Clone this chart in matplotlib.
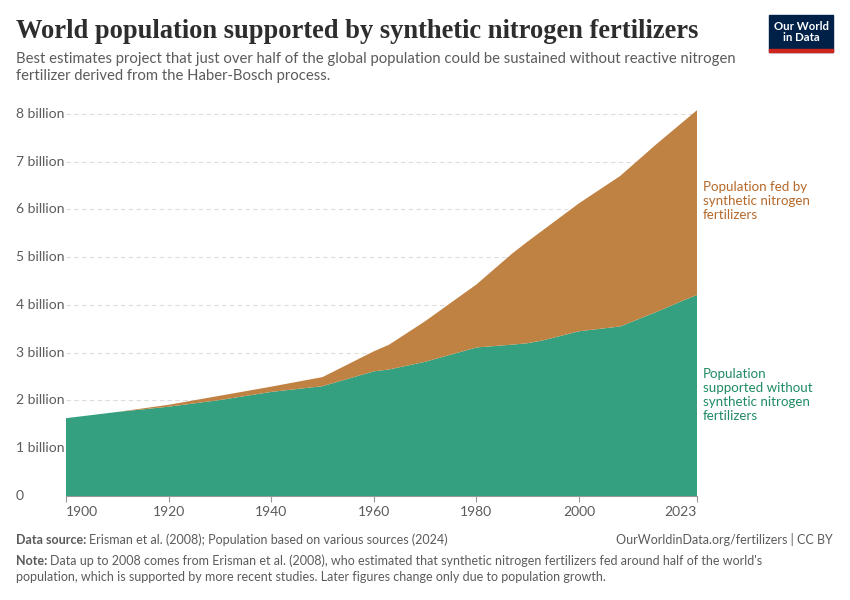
import numpy as np
import matplotlib.pyplot as plt
from matplotlib.patches import Rectangle
from matplotlib.transforms import blended_transform_factory

years = [1900, 1910, 1920, 1930, 1940, 1950, 1960, 1963, 1970, 1980,
         1987, 1990, 1993, 2000, 2008, 2015, 2020, 2023]
# billions
total_pop = [1.63, 1.76, 1.91, 2.10, 2.29, 2.49, 3.03, 3.17, 3.66, 4.43,
             5.08, 5.33, 5.57, 6.13, 6.70, 7.36, 7.81, 8.08]
without_n = [1.63, 1.76, 1.87, 2.01, 2.18, 2.30, 2.61, 2.65, 2.81, 3.11,
             3.17, 3.20, 3.26, 3.45, 3.55, 3.85, 4.08, 4.21]
fed_by_n = list(np.array(total_pop) - np.array(without_n))

x_ticks = [1900, 1920, 1940, 1960, 1980, 2000, 2023]
y_ticks = [0, 1, 2, 3, 4, 5, 6, 7, 8]
y_labels = ['0', '1 billion', '2 billion', '3 billion', '4 billion',
            '5 billion', '6 billion', '7 billion', '8 billion']

GREEN = '#34a07f'
BROWN = '#c08242'
GREEN_TXT = '#1f8b63'
BROWN_TXT = '#b5682a'
GREY = '#5b5b5b'

plt.rcParams['font.family'] = ['Lato', 'DejaVu Sans']

W, H = 850, 600
fig = plt.figure(figsize=(8.5, 6), dpi=100)

def fx(px):
    return px / W

def fy(py):
    return 1 - py / H

ax = fig.add_axes([fx(66), fy(496), (697 - 66) / W, (496 - 109.7) / H])
ax.stackplot(years, without_n, fed_by_n, colors=[GREEN, BROWN], linewidth=0)
ax.set_xlim(1900, 2023)
ax.set_ylim(0, 8.09)

for s in ['top', 'right', 'left']:
    ax.spines[s].set_visible(False)
ax.spines['bottom'].set_color('#999999')
ax.spines['bottom'].set_linewidth(0.8)

ax.set_yticks(y_ticks[1:])
ax.set_yticklabels([])
ax.tick_params(axis='y', length=0)
ax.grid(axis='y', color='#dddddd', linestyle=(0, (4, 3)), linewidth=0.8)
ax.set_axisbelow(True)

ax.set_xticks(x_ticks)
ax.set_xticklabels([str(t) for t in x_ticks], fontsize=10, color=GREY)
ax.tick_params(axis='x', length=4, color='#999999', pad=3)
xlabs = ax.get_xticklabels()
xlabs[0].set_horizontalalignment('left')
xlabs[-1].set_horizontalalignment('right')

trans = blended_transform_factory(fig.transFigure, ax.transData)
for v, lab in zip(y_ticks, y_labels):
    ax.text(fx(16), v, lab, transform=trans, ha='left', va='center',
            fontsize=10, color=GREY)

# series labels
fig.text(fx(703), fy(181), 'Population fed by\nsynthetic nitrogen\nfertilizers',
         ha='left', va='top', fontsize=9.6, color=BROWN_TXT, linespacing=1.2)
fig.text(fx(703), fy(368), 'Population\nsupported without\nsynthetic nitrogen\nfertilizers',
         ha='left', va='top', fontsize=9.6, color=GREEN_TXT, linespacing=1.2)

# header
fig.text(fx(16), fy(32), 'World population supported by synthetic nitrogen fertilizers',
         ha='left', va='center', fontsize=19.1, fontweight='bold',
         family=['Liberation Serif', 'DejaVu Serif'], color='#2d2d2d')
fig.text(fx(16), fy(52), 'Best estimates project that just over half of the global population could be sustained without reactive nitrogen\n'
         'fertilizer derived from the Haber-Bosch process.',
         ha='left', va='top', fontsize=10.7, color=GREY, linespacing=1.3)

# logo
fig.add_artist(Rectangle((fx(769), fy(52)), 64 / W, 37 / H,
                         transform=fig.transFigure, color='#002147'))
fig.add_artist(Rectangle((fx(769), fy(52)), 64 / W, 3 / H,
                         transform=fig.transFigure, color='#ce261e'))
fig.text(fx(801), fy(32), 'Our World\nin Data', ha='center', va='center',
         fontsize=8.2, color='white', fontweight='bold', linespacing=1.0)

# footer
fig.text(fx(16), fy(540), 'Data source:', ha='left', va='center',
         fontsize=9, color=GREY, fontweight='bold')
fig.text(fx(89), fy(540), 'Erisman et al. (2008); Population based on various sources (2024)',
         ha='left', va='center', fontsize=9, color=GREY)
fig.text(fx(833), fy(540), 'OurWorldinData.org/fertilizers | CC BY',
         ha='right', va='center', fontsize=9, color=GREY)
fig.text(fx(16), fy(561), 'Note:', ha='left', va='center',
         fontsize=9, color=GREY, fontweight='bold')
fig.text(fx(50), fy(561), "Data up to 2008 comes from Erisman et al. (2008), who estimated that synthetic nitrogen fertilizers fed around half of the world's",
         ha='left', va='center', fontsize=9, color=GREY)
fig.text(fx(16), fy(577), 'population, which is supported by more recent studies. Later figures change only due to population growth.',
         ha='left', va='center', fontsize=9, color=GREY)

fig.savefig('out.png', dpi=100)
